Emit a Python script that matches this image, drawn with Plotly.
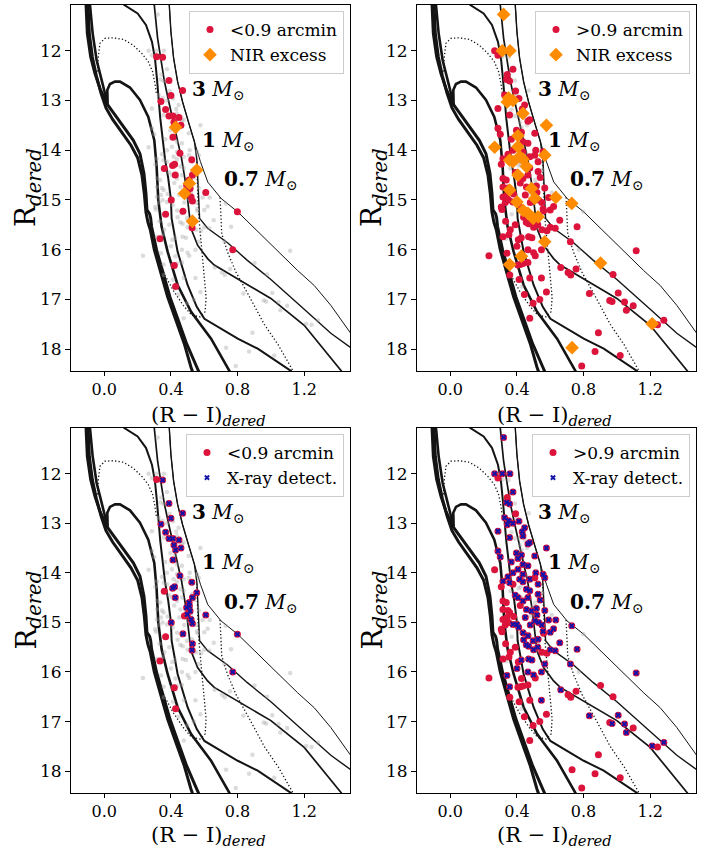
import plotly.graph_objects as go

# ---------------- data: inner group (<0.9 arcmin) ----------------
inner_x = [0.314, 0.350, 0.388, 0.470, 0.400, 0.340, 0.368, 0.388, 0.412, 0.448,
           0.418, 0.460, 0.428, 0.412, 0.454, 0.525, 0.422, 0.410, 0.360, 0.426,
           0.555, 0.529, 0.509, 0.511, 0.494, 0.515, 0.498, 0.481, 0.609, 0.521,
           0.402, 0.529, 0.472, 0.368, 0.529, 0.527, 0.334, 0.771, 0.420, 0.428,
           0.799]
inner_y = [12.12, 12.13, 12.60, 12.80, 12.90, 13.02, 13.18, 13.31, 13.31, 13.34,
           13.44, 13.50, 13.54, 13.74, 14.06, 14.19, 14.28, 14.31, 14.37, 14.50,
           14.40, 14.50, 14.60, 14.67, 14.70, 14.77, 14.84, 14.87, 14.85, 14.94,
           15.00, 15.02, 15.23, 15.29, 15.43, 15.56, 15.78, 16.00, 16.32, 16.74,
           15.24]
inner_nir = [0, 0, 0, 0, 0, 0, 0, 0, 0, 0,
             0, 0, 1, 0, 0, 0, 0, 0, 0, 0,
             1, 0, 0, 1, 0, 0, 0, 1, 0, 0,
             0, 0, 0, 0, 1, 0, 0, 0, 0, 0,
             0]
inner_xray = [0, 1, 1, 1, 1, 1, 1, 1, 1, 1,
              1, 1, 1, 1, 1, 1, 1, 1, 0, 1,
              1, 1, 1, 1, 1, 1, 1, 0, 1, 1,
              1, 1, 1, 0, 1, 1, 0, 1, 0, 0,
              1]

# ---------------- data: outer group (>0.9 arcmin) ----------------
outer_x = [0.320, 0.266, 0.286, 0.312, 0.358, 0.376, 0.342, 0.338, 0.356, 0.392,
           0.326, 0.350, 0.376, 0.342, 0.412, 0.446, 0.432, 0.286, 0.356, 0.436,
           0.477, 0.466, 0.507, 0.397, 0.427, 0.366, 0.286, 0.300, 0.577, 0.406,
           0.436, 0.466, 0.513, 0.557, 0.266, 0.406, 0.376, 0.346, 0.316, 0.306,
           0.436, 0.477, 0.507, 0.527, 0.567, 0.356, 0.376, 0.416, 0.436, 0.457,
           0.477, 0.406, 0.527, 0.316, 0.336, 0.436, 0.466, 0.316, 0.346, 0.457,
           0.517, 0.567, 0.487, 0.356, 0.316, 0.306, 0.310, 0.376, 0.400, 0.507,
           0.633, 0.437, 0.466, 0.497, 0.527, 0.557, 0.560, 0.657, 0.332, 0.729,
           0.761, 0.456, 0.500, 0.525, 0.600, 0.630, 0.316, 0.352, 0.408, 0.426,
           0.470, 0.490, 0.547, 0.567, 0.721, 0.466, 0.500, 0.510, 0.340, 0.232,
           0.400, 0.406, 0.420, 0.436, 0.427, 0.356, 0.466, 0.357, 0.413, 0.477,
           0.547, 0.577, 0.445, 0.537, 0.497, 0.477, 0.663, 0.707, 0.723, 0.755,
           0.977, 1.116, 0.902, 0.835, 0.957, 0.971, 1.008, 1.046, 1.057, 1.098,
           1.212, 1.244, 1.282, 0.889, 0.731, 0.869, 1.020, 0.789, 0.390, 0.420,
           0.450, 0.380, 0.410, 0.350, 0.480, 0.530, 0.550, 0.590, 0.600, 0.620,
           0.440, 0.470, 0.550, 0.580, 0.390, 0.360, 0.340, 0.330, 0.520, 0.540]
outer_y = [11.27, 12.00, 12.09, 12.00, 12.00, 12.37, 12.48, 12.58, 12.61, 12.81,
           12.89, 12.95, 13.00, 13.03, 12.96, 13.09, 13.17, 13.16, 13.29, 13.26,
           13.39, 13.42, 13.66, 13.60, 13.64, 13.78, 13.56, 13.68, 13.50, 13.71,
           13.83, 13.86, 14.00, 14.03, 13.94, 13.93, 14.00, 14.08, 14.17, 14.28,
           14.03, 14.13, 14.10, 14.23, 14.10, 14.20, 14.23, 14.13, 14.18, 14.33,
           14.36, 14.50, 14.43, 14.57, 14.60, 14.57, 14.50, 14.74, 14.76, 14.74,
           14.72, 14.76, 14.77, 14.80, 14.94, 15.14, 15.19, 15.04, 15.04, 14.97,
           14.95, 15.21, 15.27, 15.37, 15.34, 15.18, 15.22, 15.41, 15.43, 15.07,
           15.54, 15.45, 15.55, 15.50, 15.55, 15.57, 15.74, 15.70, 15.80, 15.76,
           15.74, 15.76, 16.00, 15.84, 15.84, 16.00, 16.06, 16.12, 16.07, 16.12,
           15.93, 16.31, 16.30, 16.28, 16.13, 16.30, 16.26, 16.51, 16.60, 16.57,
           16.57, 16.85, 16.90, 17.00, 17.08, 17.38, 16.36, 16.46, 16.51, 16.39,
           16.50, 16.02, 16.27, 16.88, 17.02, 17.04, 16.87, 17.05, 17.22, 17.13,
           17.49, 17.51, 17.42, 17.67, 17.97, 18.05, 18.13, 18.34, 14.45, 14.66,
           14.90, 14.88, 15.10, 15.00, 15.05, 15.00, 15.05, 14.95, 15.20, 15.13,
           15.35, 15.48, 15.60, 15.62, 15.50, 15.60, 14.90, 15.05, 14.85, 14.55]
outer_nir = [1, 0, 0, 1, 1, 0, 0, 0, 0, 0,
             0, 1, 1, 1, 0, 0, 0, 0, 0, 1,
             0, 0, 0, 0, 0, 0, 0, 0, 1, 1,
             0, 0, 0, 0, 1, 1, 0, 0, 0, 0,
             0, 0, 0, 0, 1, 1, 1, 1, 1, 1,
             0, 1, 0, 0, 0, 0, 0, 0, 0, 0,
             0, 0, 1, 1, 0, 0, 0, 0, 1, 1,
             1, 1, 1, 1, 1, 0, 0, 0, 0, 1,
             0, 0, 0, 0, 0, 0, 0, 0, 0, 0,
             0, 0, 0, 1, 0, 0, 0, 0, 0, 0,
             0, 0, 0, 0, 1, 1, 0, 0, 0, 0,
             0, 0, 0, 0, 0, 0, 0, 0, 0, 0,
             0, 0, 1, 0, 0, 0, 0, 0, 0, 0,
             1, 0, 0, 0, 1, 0, 0, 0, 0, 0,
             0, 0, 0, 0, 0, 0, 0, 0, 0, 0,
             0, 0, 0, 0, 0, 0, 0, 0, 0, 0]
outer_xray = [1, 1, 0, 1, 1, 1, 0, 1, 1, 0,
              1, 1, 1, 1, 1, 1, 1, 1, 1, 1,
              1, 1, 1, 1, 1, 1, 1, 1, 1, 1,
              1, 1, 1, 1, 0, 1, 1, 1, 1, 0,
              1, 1, 0, 1, 1, 1, 0, 1, 1, 1,
              1, 1, 1, 0, 0, 1, 1, 0, 0, 1,
              1, 1, 1, 0, 0, 0, 0, 1, 1, 1,
              1, 1, 1, 1, 1, 1, 0, 1, 0, 1,
              1, 1, 1, 1, 1, 1, 0, 0, 0, 1,
              1, 1, 1, 1, 1, 1, 1, 0, 1, 0,
              1, 0, 0, 0, 0, 1, 0, 0, 0, 0,
              1, 0, 0, 0, 0, 0, 1, 0, 0, 0,
              0, 1, 0, 1, 0, 1, 1, 1, 1, 0,
              1, 0, 1, 0, 0, 0, 0, 0, 1, 0,
              1, 0, 1, 0, 1, 1, 1, 1, 1, 1,
              1, 1, 0, 0, 0, 0, 0, 0, 1, 1]

# ---------------- isochrones ----------------
iso_k1_x = [-0.112, -0.110, -0.102, -0.082, -0.056, -0.026, 0.014, 0.064, 0.124, 0.174,
            0.214, 0.238, 0.250, 0.256, 0.272, 0.278, 0.284, 0.314, 0.354, 0.394,
            0.444, 0.494, 0.555, 0.580]
iso_k1_y = [10.90, 11.08, 11.65, 12.12, 12.46, 12.76, 13.06, 13.29, 13.56, 13.80,
            14.07, 14.47, 14.87, 15.20, 15.28, 15.36, 15.54, 16.01, 16.48, 16.95,
            17.42, 17.89, 18.36, 18.55]
iso_k2_x = [-0.100, -0.098, -0.090, -0.072, -0.048, -0.020, 0.010, 0.050, 0.105, 0.160,
            0.200, 0.226, 0.240, 0.250, 0.262, 0.276, 0.300, 0.340, 0.380, 0.430,
            0.480, 0.520, 0.540]
iso_k2_y = [10.90, 11.08, 11.65, 12.12, 12.50, 12.85, 13.15, 13.38, 13.65, 13.90,
            14.15, 14.50, 14.87, 15.25, 15.45, 15.60, 16.00, 16.48, 16.95, 17.42,
            17.89, 18.36, 18.55]
iso_h_x = [-0.095, -0.086, -0.070, -0.046, -0.016, 0.004, 0.020, 0.018, 0.034, 0.064,
           0.094, 0.154, 0.214, 0.264, 0.300, 0.314, 0.324, 0.344, 0.380, 0.440,
           0.521, 0.641, 0.751, 0.770]
iso_h_y = [10.90, 11.08, 11.65, 12.19, 12.59, 12.86, 13.07, 12.79, 12.67, 12.62,
           12.62, 12.74, 12.99, 13.33, 13.80, 14.33, 15.00, 15.54, 16.04, 16.71,
           17.25, 17.79, 18.44, 18.55]
iso_m1_x = [0.080, 0.120, 0.200, 0.250, 0.286, 0.304, 0.316, 0.324, 0.336, 0.350,
            0.364, 0.384, 0.400, 0.404, 0.440, 0.500, 0.555, 0.601, 0.701, 0.801,
            0.921, 1.121, 1.140]
iso_m1_y = [10.95, 11.08, 11.25, 11.48, 11.82, 12.15, 12.56, 12.96, 13.36, 13.76,
            14.17, 14.57, 15.00, 15.37, 16.04, 16.71, 17.15, 17.39, 17.59, 17.79,
            17.99, 18.44, 18.55]
iso_m2_x = [0.290, 0.300, 0.320, 0.340, 0.360, 0.384, 0.410, 0.436, 0.464, 0.490,
            0.505, 0.520, 0.560, 0.620, 0.660, 0.800, 1.000, 1.200, 1.420, 1.450]
iso_m2_y = [10.90, 11.08, 11.75, 12.15, 12.60, 12.98, 13.36, 13.76, 14.17, 14.70,
            15.10, 15.57, 15.91, 16.18, 16.31, 16.58, 16.98, 17.52, 18.43, 18.55]
iso_b_x = [0.385, 0.390, 0.400, 0.416, 0.440, 0.470, 0.505, 0.541, 0.556, 0.562,
           0.566, 0.572, 0.620, 0.700, 0.740, 0.857, 1.000, 1.200, 1.360, 1.500]
iso_b_y = [10.90, 11.08, 11.62, 12.15, 12.62, 13.03, 13.43, 13.83, 14.20, 14.60,
           15.00, 15.37, 15.57, 15.76, 15.86, 16.21, 16.60, 17.20, 17.68, 18.02]
iso_t_x = [0.385, 0.390, 0.400, 0.416, 0.440, 0.470, 0.505, 0.541, 0.577, 0.621,
           0.661, 0.701, 0.801, 0.921, 1.041, 1.161, 1.260, 1.360, 1.500]
iso_t_y = [10.90, 11.08, 11.62, 12.15, 12.62, 13.03, 13.43, 13.83, 14.23, 14.64,
           14.80, 14.97, 15.24, 15.64, 16.04, 16.42, 16.72, 17.12, 17.78]

# ---------------- evolutionary tracks (dotted) ----------------
trk3_x = [-0.040, -0.036, -0.026, 0.004, 0.054, 0.114, 0.174, 0.224, 0.264, 0.290, 0.304, 0.314]
trk3_y = [12.42, 12.12, 11.85, 11.75, 11.74, 11.77, 11.89, 12.05, 12.22, 12.42, 12.66, 12.89]
trk1_x = [0.354, 0.414, 0.474, 0.525, 0.575, 0.605, 0.611, 0.599, 0.581, 0.569, 0.561, 0.555, 0.555]
trk1_y = [16.45, 16.82, 17.12, 17.32, 17.35, 17.25, 16.95, 16.48, 15.94, 15.41, 14.87, 14.40, 14.20]
trk07_x = [0.695, 0.705, 0.740, 0.790, 0.880, 0.960, 1.045, 1.135]
trk07_y = [14.95, 15.68, 16.05, 16.45, 17.00, 17.50, 17.92, 18.45]

mass_labels = ["<b>3</b> <i>M</i><sub>⊙</sub>", "<b>1</b> <i>M</i><sub>⊙</sub>",
               "<b>0.7</b> <i>M</i><sub>⊙</sub>"]
mass_label_x = [0.515, 0.575, 0.705]
mass_label_y = [12.79, 13.81, 14.60]

x_ticks = [0.0, 0.4, 0.8, 1.2]
x_ticklabels = ["0.0", "0.4", "0.8", "1.2"]
y_ticks = [12, 13, 14, 15, 16, 17, 18]

# ---------------- figure ----------------
W, H = 713, 852
FONT = "DejaVu Serif"
RED = "rgb(220,20,60)"
ORANGE = "rgb(255,140,0)"
BLUE = "rgb(20,20,170)"
GRAY = "rgba(160,160,160,0.38)"
INK = "rgb(20,20,20)"

isochrones = [
    (iso_k1_x, iso_k1_y, 3.0),
    (iso_k2_x, iso_k2_y, 3.0),
    (iso_h_x, iso_h_y, 2.6),
    (iso_m1_x, iso_m1_y, 2.0),
    (iso_m2_x, iso_m2_y, 1.7),
    (iso_b_x, iso_b_y, 1.4),
    (iso_t_x, iso_t_y, 1.0),
]
tracks = [(trk3_x, trk3_y), (trk1_x, trk1_y), (trk07_x, trk07_y)]

panels = [
    dict(n=1, px=(71, 350), py=(5, 371), grp="inner", extra="nir", tb=431),
    dict(n=2, px=(417, 696), py=(5, 371), grp="outer", extra="nir", tb=431),
    dict(n=3, px=(71, 350), py=(428, 793), grp="inner", extra="xray", tb=851),
    dict(n=4, px=(417, 696), py=(428, 793), grp="outer", extra="xray", tb=851),
]

groups = {
    "inner": (inner_x, inner_y, inner_nir, inner_xray, "&lt;0.9 arcmin"),
    "outer": (outer_x, outer_y, outer_nir, outer_xray, "&gt;0.9 arcmin"),
}

fig = go.Figure()
annotations = []
layout_extra = {}

for p in panels:
    n = p["n"]
    xa = "x" if n == 1 else f"x{n}"
    ya = "y" if n == 1 else f"y{n}"
    leg = "legend" if n == 1 else f"legend{n}"
    gx, gy, gnir, gxray, gname = groups[p["grp"]]
    ox, oy, _, _, _ = groups["outer" if p["grp"] == "inner" else "inner"]

    for lx, ly, lw in isochrones:
        fig.add_trace(go.Scatter(x=lx, y=ly, mode="lines", line=dict(color=INK, width=lw),
                                 xaxis=xa, yaxis=ya, showlegend=False, hoverinfo="skip"))
    for tx, ty in tracks:
        fig.add_trace(go.Scatter(x=tx, y=ty, mode="lines",
                                 line=dict(color=INK, width=1.3, dash="1.3px,2.2px"),
                                 xaxis=xa, yaxis=ya, showlegend=False, hoverinfo="skip"))
    # background: the other group in light gray
    fig.add_trace(go.Scatter(x=ox, y=oy, mode="markers",
                             marker=dict(color=GRAY, size=4.5, line=dict(width=0)),
                             xaxis=xa, yaxis=ya, showlegend=False, hoverinfo="skip"))
    fig.add_trace(go.Scatter(x=gx, y=gy, mode="markers", name=gname,
                             marker=dict(color=RED, size=7, line=dict(width=0)),
                             xaxis=xa, yaxis=ya, legend=leg, showlegend=True))
    if p["extra"] == "nir":
        ex = [a for a, f in zip(gx, gnir) if f]
        ey = [b for b, f in zip(gy, gnir) if f]
        fig.add_trace(go.Scatter(x=ex, y=ey, mode="markers", name="NIR excess",
                                 marker=dict(color=ORANGE, size=10.5, symbol="diamond",
                                             line=dict(width=0)),
                                 xaxis=xa, yaxis=ya, legend=leg, showlegend=True))
    else:
        ex = [a for a, f in zip(gx, gxray) if f]
        ey = [b for b, f in zip(gy, gxray) if f]
        fig.add_trace(go.Scatter(x=ex, y=ey, mode="markers", name="X-ray detect.",
                                 marker=dict(color=BLUE, size=5, symbol="x",
                                             line=dict(width=0)),
                                 xaxis=xa, yaxis=ya, legend=leg, showlegend=True))

    x0, x1 = p["px"]
    y0, y1 = p["py"]
    layout_extra["xaxis" if n == 1 else f"xaxis{n}"] = dict(
        domain=[x0 / W, x1 / W], range=[-0.2, 1.475], anchor=ya,
        tickvals=x_ticks, ticktext=x_ticklabels, ticks="outside", ticklen=4,
        tickwidth=1, tickcolor="black", showline=True, mirror=True,
        linecolor="black", linewidth=1, showgrid=False, zeroline=False,
        tickfont=dict(family=FONT, size=16, color="black"))
    layout_extra["yaxis" if n == 1 else f"yaxis{n}"] = dict(
        domain=[1 - y1 / H, 1 - y0 / H], range=[18.44, 11.08], anchor=xa,
        tickvals=y_ticks, ticks="outside", ticklen=5, tickwidth=1,
        tickcolor="black", showline=True, mirror=True, linecolor="black",
        linewidth=1, showgrid=False, zeroline=False,
        tickfont=dict(family=FONT, size=17, color="black"))
    layout_extra[leg] = dict(
        x=(x1 - 6) / W, y=1 - (y0 + 6) / H, xanchor="right", yanchor="top",
        bgcolor="rgba(255,255,255,0.85)", bordercolor="#cccccc", borderwidth=1,
        font=dict(family=FONT, size=17, color="black"), tracegroupgap=0)

    for t, mx, my in zip(mass_labels, mass_label_x, mass_label_y):
        annotations.append(dict(x=mx, y=my, xref=xa, yref=ya, text=t, showarrow=False,
                                xanchor="left", yanchor="middle",
                                font=dict(family=FONT, size=20, color="black")))
    # axis titles
    annotations.append(dict(x=((x0 + x1) / 2 - 2) / W, y=1 - p["tb"] / H,
                            xref="paper", yref="paper", showarrow=False,
                            text="(R − I)<sub><i>dered</i></sub>",
                            xanchor="center", yanchor="bottom",
                            font=dict(family=FONT, size=21, color="black")))
    annotations.append(dict(x=(x0 - 43) / W, y=1 - ((y0 + y1) / 2) / H,
                            xref="paper", yref="paper", showarrow=False,
                            text="R<sub><i>dered</i></sub>", textangle=-90,
                            xanchor="center", yanchor="middle",
                            font=dict(family=FONT, size=28, color="black")))

fig.update_layout(width=W, height=H, margin=dict(l=0, r=0, t=0, b=0),
                  paper_bgcolor="white", plot_bgcolor="white",
                  annotations=annotations, **layout_extra)

fig.write_html("out.html")
